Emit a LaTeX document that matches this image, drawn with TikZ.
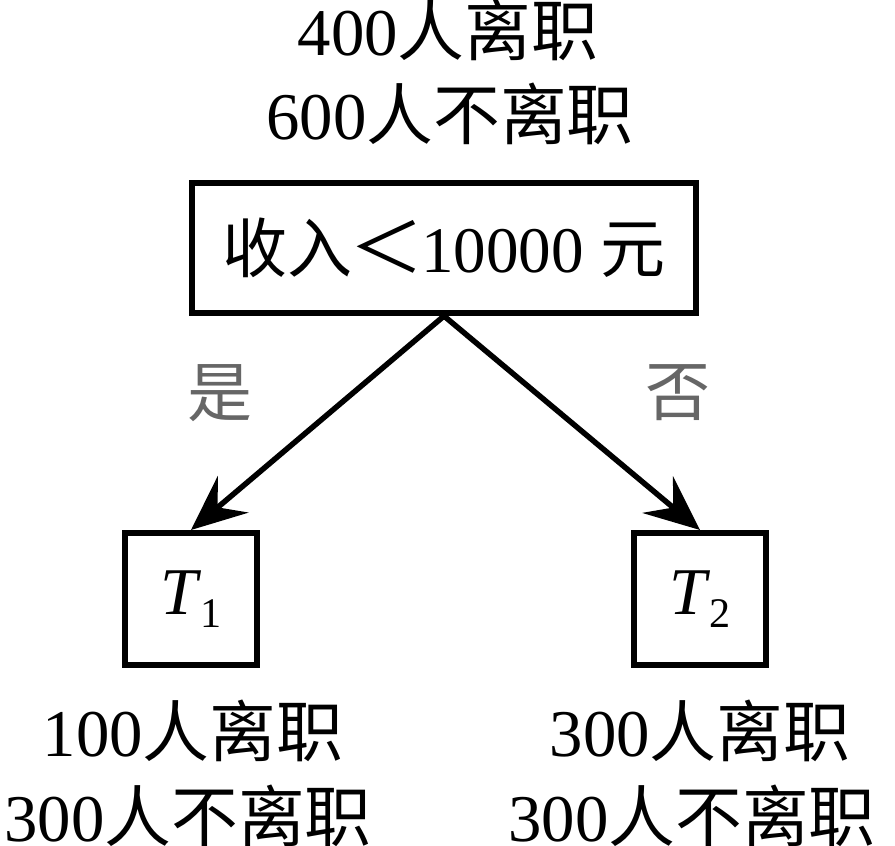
\documentclass[tikz,border=0pt]{standalone}
\usepackage{fontspec}
\setmainfont{Liberation Serif}
\newfontfamily\cjk{Noto Sans CJK SC}
\usetikzlibrary{arrows.meta}
\tikzset{
	boite/.style={draw, line width=0.12cm, inner sep=0pt},
	ligne/.style={anchor=base, inner sep=0pt, font=\fontsize{38}{40}\selectfont},
	fleche/.style={-{Stealth[length=1.1cm,width=0.95cm,inset=0.4cm]}, line width=0.11cm},
	branche/.style={inner sep=0pt, text=black!60, font=\fontsize{37}{40}\selectfont\cjk},
}
\newcommand{\arbre}[1]{\textit{T}\kern-0.02em\raisebox{-0.2em}{\fontsize{24}{24}\selectfont #1}}
\begin{document}
\begin{tikzpicture}
	\useasboundingbox (0,0) rectangle (17.9,16.92);
	\def\xR{8.88};
	\def\yR{11.96};
	\def\xTa{3.82};
	\def\xTb{14.0};
	\def\yT{4.94};
	% noeud racine
	\node[ligne] (hauta) at (8.96,15.8) {400{\cjk 人离职}};
	\node[ligne] (hautb) at (9.0,14.12) {600{\cjk 人不离职}};
	\node[boite, minimum width=10.08cm, minimum height=2.6cm, font=\fontsize{37}{40}\selectfont] (R) at (\xR,\yR) {{\cjk 收入}\kern-0.05em\scalebox{1.15}[1.05]{\cjk ＜}\kern-0.05em 10000 {\cjk 元}};
	% feuilles
	\node[boite, minimum size=2.64cm, font=\fontsize{38}{40}\selectfont] (Ta) at (\xTa,\yT) {\arbre{1}};
	\node[boite, minimum size=2.64cm, font=\fontsize{38}{40}\selectfont] (Tb) at (\xTb,\yT) {\arbre{2}};
	\draw[fleche] (R.south) -- (Ta.north);
	\draw[fleche] (R.south) -- (Tb.north);
	\node[branche] (oui) at (4.4,9.06) {是};
	\node[branche] (non) at (13.56,9.06) {否};
	\node[ligne] (basaa) at (3.86,1.78) {100{\cjk 人离职}};
	\node[ligne] (basab) at (3.76,0.08) {300{\cjk 人不离职}};
	\node[ligne] (basba) at (14.0,1.78) {300{\cjk 人离职}};
	\node[ligne] (basbb) at (13.84,0.08) {300{\cjk 人不离职}};
\end{tikzpicture}
\end{document}
